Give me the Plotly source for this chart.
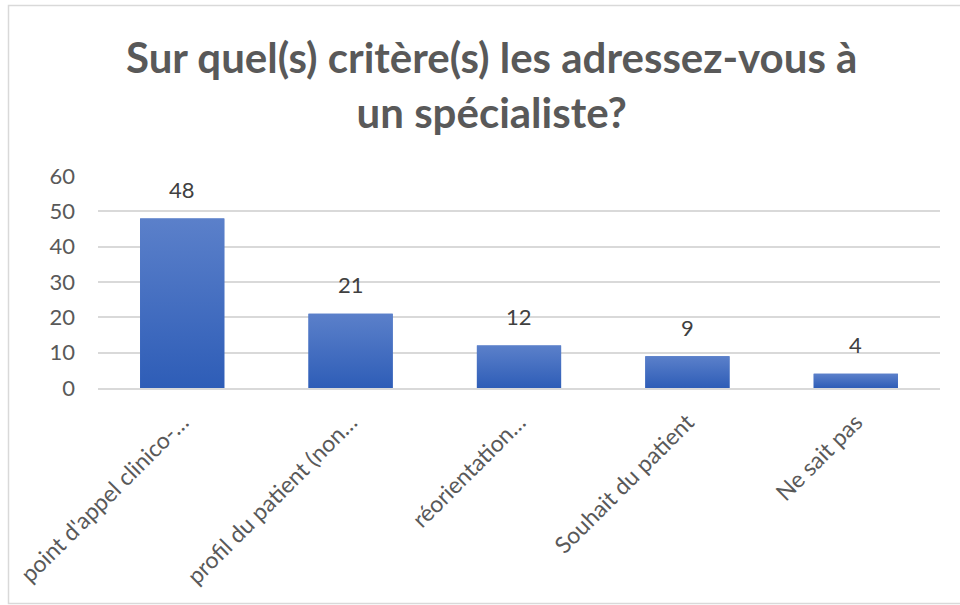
import plotly.graph_objects as go

# Survey responses: criteria for referring a patient to a specialist
categories = [
    "point d'appel clinico-…",
    "profil du patient (non…",
    "réorientation…",
    "Souhait du patient",
    "Ne sait pas",
]
counts = [48, 21, 12, 9, 4]
y_ticks = [0, 10, 20, 30, 40, 50, 60]

title_text = "Sur quel(s) critère(s) les adressez-vous à<br>un spécialiste?"

W, H = 960, 605
ML, MR, MT, MB = 98, 20, 176, 217
plot_w = W - ML - MR
plot_h = H - MT - MB

FONT = "Lato"
BAR_HALF = 0.25
positions = list(range(len(categories)))

fig = go.Figure()

# Base bars
fig.add_trace(go.Bar(
    x=positions, y=counts, width=2 * BAR_HALF,
    marker=dict(color="#416dc2", line=dict(width=0)),
    hoverinfo="skip", showlegend=False,
))

# Vertical gradient overlay on each bar (light at top, darker at base)
for i, v in zip(positions, counts):
    fig.add_trace(go.Scatter(
        x=[i - BAR_HALF, i + BAR_HALF, i + BAR_HALF, i - BAR_HALF, i - BAR_HALF],
        y=[0, 0, v, v, 0],
        mode="lines", line=dict(width=0),
        fill="toself",
        fillgradient=dict(type="vertical",
                          colorscale=[[0, "#2e5db7"], [1, "#5b80ca"]]),
        hoverinfo="skip", showlegend=False,
    ))

# Value labels above bars
for i, v in zip(positions, counts):
    fig.add_annotation(
        x=i, y=v, text=str(v), showarrow=False, yshift=29,
        font=dict(family=FONT, size=22, color="#404040"),
    )

# Chart area border (light grey frame)
def px_x(p):
    return (p - ML) / plot_w

def px_y(p):
    return (H - MB - p) / plot_h

fig.add_shape(
    type="rect", xref="paper", yref="paper",
    x0=px_x(8.5), x1=px_x(975), y0=px_y(5.5), y1=px_y(603.5),
    line=dict(color="#d9d9d9", width=1.5), fillcolor="rgba(0,0,0,0)",
    layer="below",
)

fig.add_annotation(
    xref="paper", yref="paper", x=px_x(491), y=px_y(84),
    text=title_text, showarrow=False, align="center",
    font=dict(family=FONT, size=42, color="#595959", weight="bold"),
    yanchor="middle",
)

fig.update_layout(
    width=W, height=H,
    margin=dict(l=ML, r=MR, t=MT, b=MB),
    paper_bgcolor="white", plot_bgcolor="white",
    bargap=0.5,
    xaxis=dict(
        tickmode="array", tickvals=positions, ticktext=categories,
        range=[-0.5, len(categories) - 0.5],
        tickangle=-45,
        showgrid=False, zeroline=False,
        showline=True, linecolor="#d9d9d9", linewidth=1.5,
        ticks="", ticklabelstandoff=10,
        tickfont=dict(family=FONT, size=23, color="#595959"),
    ),
    yaxis=dict(
        range=[0, 60], tickvals=y_ticks,
        showgrid=True, gridcolor="#d9d9d9", gridwidth=1.5,
        zeroline=False, showline=False, ticks="",
        ticklabelstandoff=22,
        tickfont=dict(family=FONT, size=22, color="#595959"),
    ),
)

fig.write_html("out.html")
